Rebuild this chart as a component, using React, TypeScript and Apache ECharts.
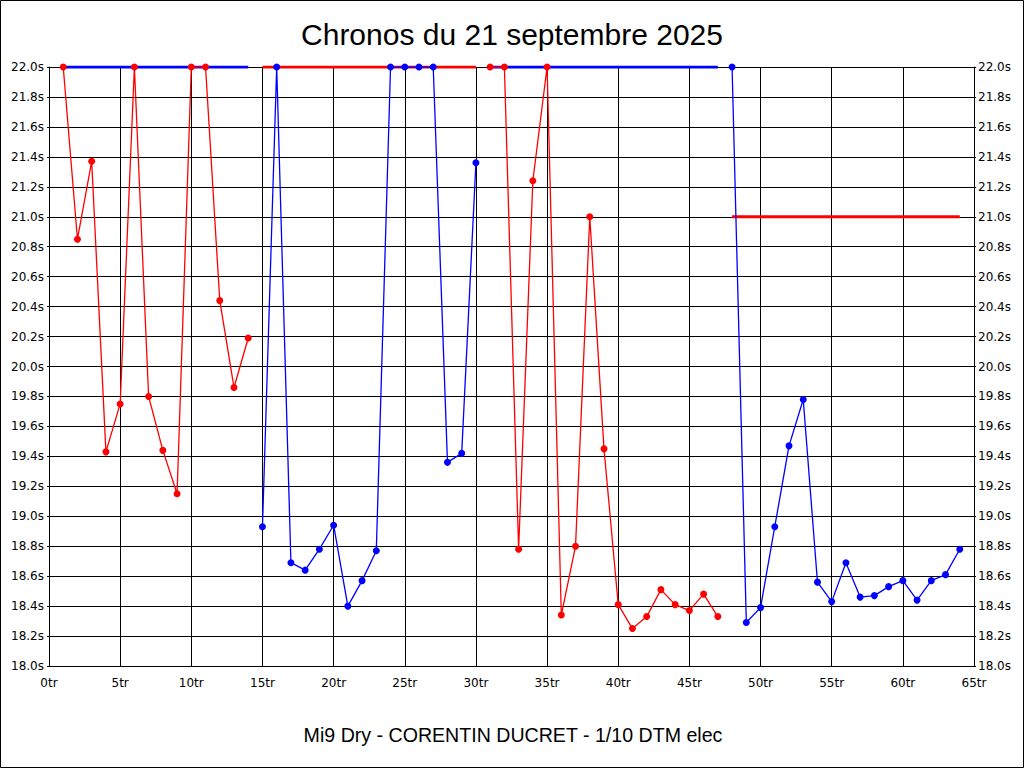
import React, { useEffect, useRef } from "react";
import * as echarts from "echarts";

const titleText = "Chronos du 21 septembre 2025";
const subtitleText = "Mi9 Dry - CORENTIN DUCRET - 1/10 DTM elec";

// first lap of each stint
const stintStartLaps = [1, 15, 31, 48];
// lap times (s), values above 22.0 are shown capped at 22.0
const stint1Times = [22.0, 20.85, 21.37, 19.43, 19.75, 22.0, 19.8, 19.44, 19.15, 22.0, 22.0, 20.44, 19.86, 20.19];
const stint2Times = [18.93, 22.0, 18.69, 18.64, 18.78, 18.94, 18.4, 18.57, 18.77, 22.0, 22.0, 22.0, 22.0, 19.36, 19.42, 21.36];
const stint3Times = [22.0, 22.0, 18.78, 21.24, 22.0, 18.34, 18.8, 21.0, 19.45, 18.41, 18.25, 18.33, 18.51, 18.41, 18.37, 18.48, 18.33];
const stint4Times = [22.0, 18.29, 18.39, 18.93, 19.47, 19.78, 18.56, 18.43, 18.69, 18.46, 18.47, 18.53, 18.57, 18.44, 18.57, 18.61, 18.78];
// stint averages (capped at 22.0)
const stintAverages = [22.0, 22.0, 22.0, 21.0];

const stintColors = ["#ff0000", "#0000ff", "#ff0000", "#0000ff"];
const averageColors = ["#0000ff", "#ff0000", "#0000ff", "#ff0000"];

const yMin = 18.0;
const yMax = 22.0;
const yStep = 0.2;
const xMin = 0;
const xMax = 65;
const xStep = 5;

export default function App() {
  const ref = useRef<HTMLDivElement | null>(null);

  useEffect(() => {
    document.body.style.margin = "0";
    if (!ref.current) return;
    const chart = echarts.init(ref.current, null, { renderer: "svg" });
    const stints = [stint1Times, stint2Times, stint3Times, stint4Times];

    const series: any[] = [];
    stints.forEach((times, i) => {
      const start = stintStartLaps[i];
      const end = start + times.length - 1;
      series.push({
        type: "line",
        name: "avg" + i,
        data: [
          [start, stintAverages[i]],
          [end, stintAverages[i]],
        ],
        showSymbol: false,
        symbol: "none",
        lineStyle: { color: averageColors[i], width: 3 },
        z: 2,
        silent: true,
      });
    });
    stints.forEach((times, i) => {
      const start = stintStartLaps[i];
      series.push({
        type: "line",
        name: "stint" + i,
        data: times.map((t, k) => [start + k, t]),
        symbol: "circle",
        symbolSize: 7,
        showAllSymbol: true,
        itemStyle: { color: stintColors[i] },
        lineStyle: { color: stintColors[i], width: 1.3 },
        z: 3,
        silent: true,
      });
    });

    const yLabelStyle = {
      fontFamily: "DejaVu Sans",
      fontSize: 12,
      color: "#000",
      formatter: (v: number) => v.toFixed(1) + "s",
    };

    chart.setOption({
      animation: false,
      backgroundColor: "#ffffff",
      grid: { left: 49, right: 50, top: 67, bottom: 102, containLabel: false },
      xAxis: {
        type: "value",
        min: xMin,
        max: xMax,
        interval: xStep,
        axisLine: { show: true, onZero: false, lineStyle: { color: "#000", width: 1 } },
        axisTick: { show: false },
        splitLine: { show: true, lineStyle: { color: "#000", width: 1 } },
        axisLabel: {
          fontFamily: "DejaVu Sans",
          fontSize: 12,
          color: "#000",
          margin: 11,
          formatter: (v: number) => v + "tr",
        },
      },
      yAxis: [
        {
          type: "value",
          min: yMin,
          max: yMax,
          interval: yStep,
          position: "left",
          axisLine: { show: true, lineStyle: { color: "#000", width: 1 } },
          axisTick: { show: true, length: 2, lineStyle: { color: "#000" } },
          splitLine: { show: true, lineStyle: { color: "#000", width: 1 } },
          axisLabel: { ...yLabelStyle, margin: 5 },
        },
        {
          type: "value",
          min: yMin,
          max: yMax,
          interval: yStep,
          position: "right",
          axisLine: { show: true, lineStyle: { color: "#000", width: 1 } },
          axisTick: { show: true, length: 2, lineStyle: { color: "#000" } },
          splitLine: { show: false },
          axisLabel: { ...yLabelStyle, margin: 4 },
        },
      ],
      series,
      graphic: [
        {
          type: "rect",
          shape: { x: 0.5, y: 0.5, width: 1023, height: 767 },
          style: { fill: "none", stroke: "#000", lineWidth: 1 },
          silent: true,
          z: 100,
        },
        {
          type: "rect",
          shape: { x: 49.5, y: 67.5, width: 925, height: 599 },
          style: { fill: "none", stroke: "#000", lineWidth: 1 },
          silent: true,
          z: 1,
        },
        {
          type: "text",
          x: 512,
          y: 34.5,
          style: {
            text: titleText,
            font: "30px 'Liberation Sans', Arial, sans-serif",
            fill: "#000",
            textAlign: "center",
            textVerticalAlign: "middle",
          },
          silent: true,
        },
        {
          type: "text",
          x: 513,
          y: 735.3,
          style: {
            text: subtitleText,
            font: "19.6px 'Liberation Sans', Arial, sans-serif",
            fill: "#000",
            textAlign: "center",
            textVerticalAlign: "middle",
          },
          silent: true,
        },
      ],
    });

    return () => {
      chart.dispose();
    };
  }, []);

  return <div ref={ref} style={{ width: 1024, height: 768 }} />;
}
